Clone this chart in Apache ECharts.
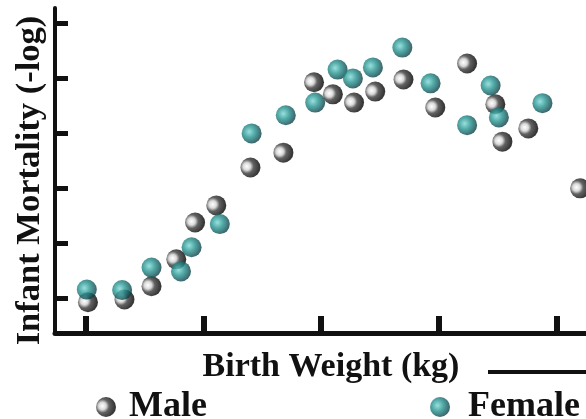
<!DOCTYPE html>
<html>
<head>
<meta charset="utf-8">
<script src="https://cdn.jsdelivr.net/npm/echarts@6/dist/echarts.min.js"></script>
<style>
html,body{margin:0;padding:0;background:#fff;}
#chart{width:586px;height:419px;}
</style>
</head>
<body>
<div id="chart"></div>
<script>
// Birth weight (kg) vs infant mortality (-log)
const maleWeight = [1.02, 1.33, 1.56, 1.77, 1.93, 2.11, 2.40, 2.68, 2.94, 3.10, 3.28, 3.46, 3.70, 3.97, 4.24, 4.48, 4.54, 4.76, 5.20];
const maleMortality = [0.93, 0.98, 1.22, 1.71, 2.38, 2.69, 3.38, 3.65, 4.93, 4.71, 4.56, 4.76, 4.98, 4.47, 5.27, 4.53, 3.85, 4.09, 3.00];
const femaleWeight = [1.01, 1.31, 1.56, 1.81, 1.90, 2.14, 2.41, 2.70, 2.95, 3.14, 3.27, 3.44, 3.69, 3.93, 4.24, 4.44, 4.51, 4.88];
const femaleMortality = [1.16, 1.15, 1.56, 1.49, 1.93, 2.35, 4.00, 4.33, 4.56, 5.16, 5.00, 5.20, 5.56, 4.91, 4.15, 4.87, 4.29, 4.55];
const xTickValues = [1, 2, 3, 4, 5];
const yTickValues = [1, 2, 3, 4, 5, 6];
const seriesNames = ['Male', 'Female'];

const maleData = maleWeight.map((w, i) => [w, maleMortality[i]]);
const femaleData = femaleWeight.map((w, i) => [w, femaleMortality[i]]);

function ball(x, y, r, stops) {
  return {
    type: 'radial', x: x, y: y, r: r,
    colorStops: stops.map(s => ({offset: s[0], color: s[1]}))
  };
}
const maleColor = ball(0.32, 0.45, 0.62, [[0, '#ffffff'], [0.3, '#d0d0d0'], [0.55, '#3a3a3a'], [1, '#050505']]);
const femaleColor = ball(0.38, 0.42, 0.62, [[0, '#7fd8d4'], [0.45, '#279592'], [1, '#0a3d44']]);

const serif = '"Liberation Serif", "Times New Roman", serif';
const chart = echarts.init(document.getElementById('chart'), null, {renderer: 'canvas'});
chart.setOption({
  animation: false,
  backgroundColor: '#ffffff',
  grid: {left: 55, right: 0, top: 8, bottom: 86, outerBoundsMode: 'none', containLabel: false},
  legend: [
    {
      left: 91, top: 384, itemWidth: 20, itemHeight: 20, selectedMode: false,
      data: [{name: seriesNames[0], icon: 'circle', itemStyle: {color: maleColor}}],
      textStyle: {fontFamily: serif, fontWeight: 'bold', fontSize: 36, lineHeight: 36, color: '#111', padding: [0, 0, 0, 8]}
    },
    {
      left: 425, top: 384, itemWidth: 20, itemHeight: 20, selectedMode: false,
      data: [{name: seriesNames[1], icon: 'circle', itemStyle: {color: femaleColor}}],
      textStyle: {fontFamily: serif, fontWeight: 'bold', fontSize: 36, lineHeight: 36, color: '#111', padding: [0, 0, 0, 13]}
    }
  ],
  xAxis: {
    type: 'value', min: 0.74, max: 5.25,
    name: 'Birth Weight (kg)', nameLocation: 'middle', nameGap: 17,
    nameTextStyle: {fontFamily: serif, fontWeight: 'bold', fontSize: 34, lineHeight: 34, color: '#111', padding: [0, 0, 0, 21]},
    axisLine: {show: true, onZero: false, lineStyle: {color: '#111', width: 5}},
    axisTick: {show: true, inside: true, length: 17, customValues: xTickValues, lineStyle: {color: '#111', width: 6}},
    axisLabel: {show: false, customValues: xTickValues},
    splitLine: {show: false}
  },
  yAxis: {
    type: 'value', min: 0.37, max: 6.28,
    name: 'Infant Mortality (-log)', nameLocation: 'middle', nameGap: 8,
    nameTextStyle: {fontFamily: serif, fontWeight: 'bold', fontSize: 34.5, lineHeight: 34, color: '#111', padding: [0, 20, 0, 0]},
    axisLine: {show: true, onZero: false, lineStyle: {color: '#111', width: 4}},
    axisTick: {show: true, inside: true, length: 13, customValues: yTickValues, lineStyle: {color: '#111', width: 5}},
    axisLabel: {show: false, customValues: yTickValues},
    splitLine: {show: false}
  },
  series: [
    {
      name: seriesNames[0], type: 'scatter', data: maleData, symbol: 'circle', symbolSize: 20,
      itemStyle: {color: maleColor}, emphasis: {disabled: true}, z: 2
    },
    {
      name: seriesNames[1], type: 'scatter', data: femaleData, symbol: 'circle', symbolSize: 20,
      itemStyle: {color: femaleColor}, emphasis: {disabled: true}, z: 3
    }
  ],
  graphic: [
    {type: 'line', shape: {x1: 488, y1: 372, x2: 586, y2: 372}, style: {stroke: '#111', lineWidth: 4}, silent: true}
  ]
});
</script>
</body>
</html>
